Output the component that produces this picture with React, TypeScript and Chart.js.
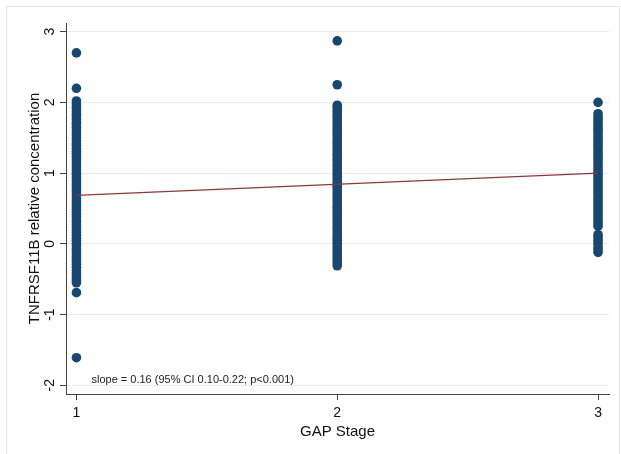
import React, { useEffect, useRef } from "react";
import { Chart, registerables } from "chart.js";

Chart.register(...registerables);

// ---- data ----
const stage1Values = [2.70, 2.20, 2.02, 1.98, 1.94, 1.91, 1.87, 1.83, 1.80, 1.76, 1.72, 1.69, 1.65, 1.61, 1.57, 1.54, 1.50, 1.46, 1.42, 1.39, 1.35, 1.31, 1.28, 1.24, 1.20, 1.16, 1.13, 1.09, 1.05, 1.01, 0.98, 0.94, 0.90, 0.86, 0.83, 0.79, 0.75, 0.72, 0.68, 0.64, 0.60, 0.57, 0.53, 0.49, 0.45, 0.42, 0.38, 0.34, 0.31, 0.27, 0.23, 0.19, 0.16, 0.12, 0.08, 0.05, 0.01, -0.03, -0.07, -0.10, -0.14, -0.18, -0.22, -0.25, -0.29, -0.33, -0.37, -0.41, -0.45, -0.49, -0.52, -0.55, -0.69, -1.61];
const stage2Values = [2.87, 2.25, 1.96, 1.93, 1.89, 1.85, 1.82, 1.78, 1.74, 1.70, 1.66, 1.62, 1.58, 1.55, 1.51, 1.47, 1.43, 1.40, 1.36, 1.32, 1.28, 1.25, 1.21, 1.17, 1.13, 1.10, 1.06, 1.02, 0.98, 0.95, 0.91, 0.87, 0.83, 0.80, 0.76, 0.72, 0.68, 0.65, 0.61, 0.57, 0.53, 0.50, 0.46, 0.42, 0.38, 0.35, 0.31, 0.27, 0.23, 0.20, 0.16, 0.12, 0.08, 0.05, 0.01, -0.03, -0.07, -0.11, -0.15, -0.19, -0.23, -0.27, -0.31];
const stage3Values = [2.00, 1.84, 1.80, 1.76, 1.72, 1.68, 1.64, 1.61, 1.57, 1.53, 1.49, 1.45, 1.41, 1.37, 1.33, 1.29, 1.25, 1.21, 1.17, 1.13, 1.09, 1.05, 1.01, 0.97, 0.93, 0.89, 0.85, 0.81, 0.77, 0.73, 0.69, 0.65, 0.61, 0.57, 0.53, 0.49, 0.45, 0.41, 0.37, 0.33, 0.29, 0.25, 0.13, 0.09, 0.05, 0.01, -0.04, -0.08, -0.12];
const stages = [1, 2, 3];
const regStages = [1, 3];
const regFitted = [0.685, 1.0];
const yTickValues = [-2, -1, 0, 1, 2, 3];
const xTickValues = [1, 2, 3];
const yTitle = "TNFRSF11B relative concentration";
const xTitle = "GAP Stage";
const noteText = "slope = 0.16 (95% CI 0.10-0.22; p<0.001)";

const FONT = '"Liberation Sans", Arial, Helvetica, sans-serif';

const textPlugin = {
  id: "stataText",
  beforeDraw(chart: any) {
    const ctx = chart.ctx;
    ctx.save();
    ctx.fillStyle = "#ffffff";
    ctx.fillRect(0, 0, chart.width, chart.height);
    ctx.strokeStyle = "#e4e4e4";
    ctx.lineWidth = 1;
    ctx.strokeRect(6.5, 6.5, chart.width - 8, chart.height - 2);
    ctx.restore();
  },
  afterDraw(chart: any) {
    const ctx = chart.ctx;
    const xs = chart.scales.x;
    const ys = chart.scales.y;
    const area = chart.chartArea;
    ctx.save();
    ctx.fillStyle = "#111111";
    // y tick labels (rotated)
    ctx.font = `14px ${FONT}`;
    ctx.textAlign = "center";
    ctx.textBaseline = "alphabetic";
    yTickValues.forEach((v) => {
      const py = ys.getPixelForValue(v);
      ctx.save();
      ctx.translate(area.left - 12, py);
      ctx.rotate(-Math.PI / 2);
      ctx.fillText(String(v), 0, 0);
      ctx.restore();
    });
    // y title
    ctx.save();
    ctx.font = `15px ${FONT}`;
    ctx.translate(38.5, (area.top + area.bottom) / 2);
    ctx.rotate(-Math.PI / 2);
    ctx.fillText(yTitle, 0, 0);
    ctx.restore();
    // x tick labels
    ctx.font = `14px ${FONT}`;
    xTickValues.forEach((v) => {
      ctx.fillText(String(v), xs.getPixelForValue(v), area.bottom + 22.5);
    });
    // x title
    ctx.font = `15px ${FONT}`;
    ctx.fillText(xTitle, (area.left + area.right) / 2, area.bottom + 41.5);
    // note
    ctx.font = `11px ${FONT}`;
    ctx.textAlign = "left";
    ctx.fillStyle = "#222222";
    ctx.fillText(noteText, area.left + 25.5, area.bottom - 11.5);
    ctx.restore();
  },
};

export default function App() {
  const ref = useRef<HTMLCanvasElement | null>(null);
  useEffect(() => {
    if (!ref.current) return;
    const points = [
      ...stage1Values.map((y) => ({ x: stages[0], y })),
      ...stage2Values.map((y) => ({ x: stages[1], y })),
      ...stage3Values.map((y) => ({ x: stages[2], y })),
    ];
    const fit = regStages.map((x, i) => ({ x, y: regFitted[i] }));
    const chart = new Chart(ref.current, {
      type: "scatter",
      data: {
        datasets: [
          {
            type: "line",
            label: "Fitted",
            data: fit,
            borderColor: "#90353b",
            borderWidth: 1.3,
            pointRadius: 0,
            fill: false,
            order: 0,
          } as any,
          {
            label: "TNFRSF11B",
            data: points,
            backgroundColor: "#1a476f",
            borderColor: "#1a476f",
            borderWidth: 0,
            pointRadius: 4.8,
            order: 1,
          },
        ],
      },
      options: {
        responsive: false,
        animation: false,
        devicePixelRatio: 1,
        layout: { padding: { left: 0, top: 23, right: 12, bottom: 0 } },
        plugins: { legend: { display: false }, tooltip: { enabled: false }, title: { display: false } },
        scales: {
          x: {
            type: "linear",
            min: 0.96,
            max: 3.042,
            afterFit: (s: any) => { s.height = 60; },
            ticks: { stepSize: 1, includeBounds: false, display: false },
            grid: { drawOnChartArea: false, tickLength: 6, tickColor: "#444444", color: "#444444" },
            border: { display: true, color: "#444444", width: 1 },
          },
          y: {
            type: "linear",
            min: -2.123,
            max: 3.123,
            afterFit: (s: any) => { s.width = 66; },
            ticks: { stepSize: 1, includeBounds: false, display: false },
            grid: { drawOnChartArea: true, color: "#e6edf2", tickLength: 6, tickColor: "#444444" },
            border: { display: true, color: "#444444", width: 1 },
          },
        },
      },
      plugins: [textPlugin],
    });
    return () => chart.destroy();
  }, []);
  return (
    <div style={{ position: "absolute", left: 0, top: 0, width: 621, height: 454, background: "#fff" }}>
      <canvas ref={ref} width={621} height={454} style={{ display: "block" }} />
    </div>
  );
}
